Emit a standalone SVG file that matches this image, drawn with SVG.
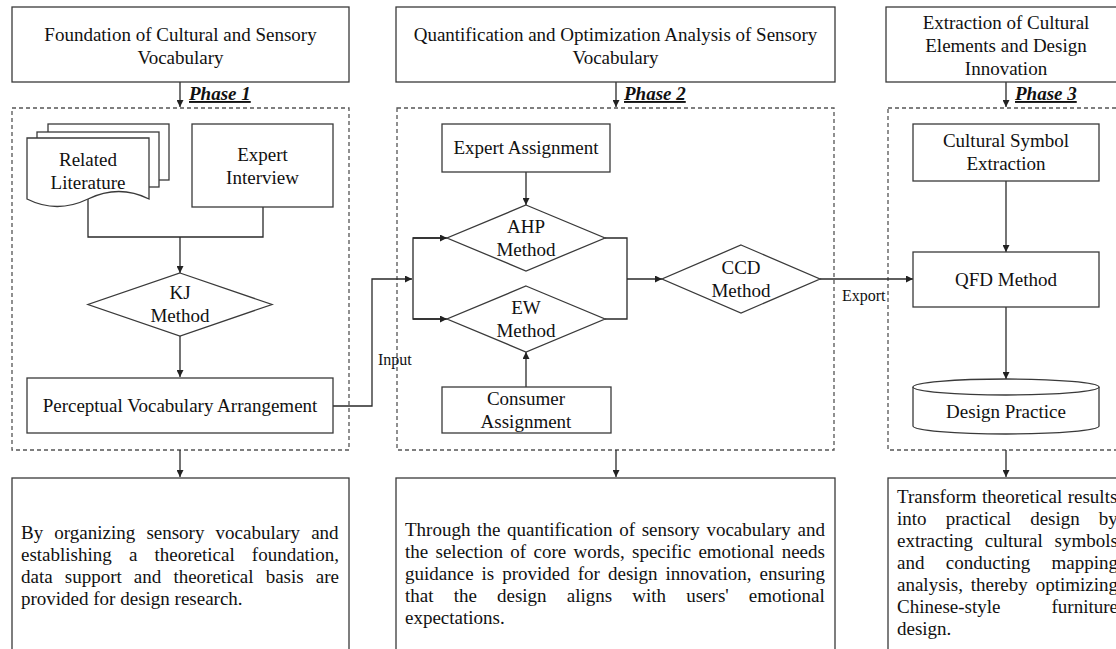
<svg xmlns="http://www.w3.org/2000/svg" width="1116" height="649" viewBox="0 0 1116 649">
  <defs>
    <marker id="arrow" markerUnits="userSpaceOnUse" markerWidth="8" markerHeight="7" refX="7" refY="3.5" orient="auto">
      <path d="M0,0 L7,3.5 L0,7 Z" fill="#222"/>
    </marker>
    <style>
      .box { fill: #fff; stroke: #3a3a3a; stroke-width: 1.3; }
      .dash { fill: none; stroke: #555; stroke-width: 1.3; stroke-dasharray: 4 3; }
      .line { fill: none; stroke: #2a2a2a; stroke-width: 1.3; }
      .arr { marker-end: url(#arrow); }
      text { font-family: "Liberation Serif", "Times New Roman", serif; font-size: 19px; fill: #111; }
      .c { text-anchor: middle; }
      .e { text-anchor: end; }
      .small { font-size: 16px; }
      .phase { font-weight: bold; font-style: italic; text-decoration: underline; }
    </style>
  </defs>

  <rect width="1116" height="649" fill="#fff"/>

  <!-- Phase containers -->
  <g id="phase1-frame"><rect class="dash" x="12" y="108" width="337" height="342"/></g>
  <g id="phase2-frame"><rect class="dash" x="397" y="108" width="437" height="342"/></g>
  <g id="phase3-frame"><rect class="dash" x="888" y="108" width="238" height="342"/></g>

  <!-- Connectors -->
  <g id="connectors">
    <!-- phase headers to frames -->
    <line class="line arr" x1="180" y1="82" x2="180" y2="107"/>
    <line class="line arr" x1="616" y1="82" x2="616" y2="107"/>
    <line class="line arr" x1="1006" y1="82" x2="1006" y2="107"/>
    <!-- frames to summaries -->
    <line class="line arr" x1="180" y1="450" x2="180" y2="477"/>
    <line class="line arr" x1="616" y1="450" x2="616" y2="477"/>
    <line class="line arr" x1="1006" y1="450" x2="1006" y2="477"/>
    <!-- phase 1 -->
    <polyline class="line" points="88,199 88,237 263,237 263,207"/>
    <line class="line arr" x1="180" y1="237" x2="180" y2="273"/>
    <line class="line arr" x1="180" y1="336" x2="180" y2="377"/>
    <!-- input -->
    <polyline class="line arr" points="333,406 372,406 372,279 412,279"/>
    <polyline class="line" points="446,238 413,238 413,319 446,319"/>
    <line class="line arr" x1="413" y1="238" x2="447" y2="238"/>
    <line class="line arr" x1="413" y1="319" x2="447" y2="319"/>
    <!-- phase 2 -->
    <line class="line arr" x1="526" y1="172" x2="526" y2="205"/>
    <line class="line arr" x1="526" y1="387" x2="526" y2="352"/>
    <polyline class="line" points="605,238 627,238 627,319 605,319"/>
    <line class="line arr" x1="627" y1="279" x2="662" y2="279"/>
    <!-- export -->
    <line class="line arr" x1="820" y1="279" x2="913" y2="279"/>
    <!-- phase 3 -->
    <line class="line arr" x1="1006" y1="181" x2="1006" y2="252"/>
    <line class="line arr" x1="1006" y1="307" x2="1006" y2="379"/>
    <text class="small" x="378" y="365">Input</text>
    <text class="small" x="842" y="301">Export</text>
  </g>

  <!-- Phase headers -->
  <g id="header1">
    <rect class="box" x="12" y="7" width="337" height="75"/>
    <text class="c" x="180.5" y="41">Foundation of Cultural and Sensory</text>
    <text class="c" x="180.5" y="64">Vocabulary</text>
    <text class="phase" x="189" y="100">Phase 1</text>
  </g>
  <g id="header2">
    <rect class="box" x="396" y="7" width="439" height="75"/>
    <text class="c" x="615.5" y="41">Quantification and Optimization Analysis of Sensory</text>
    <text class="c" x="615.5" y="64">Vocabulary</text>
    <text class="phase" x="624" y="100">Phase 2</text>
  </g>
  <g id="header3">
    <rect class="box" x="886" y="7" width="240" height="75"/>
    <text class="c" x="1006" y="29">Extraction of Cultural</text>
    <text class="c" x="1006" y="52">Elements and Design</text>
    <text class="c" x="1006" y="75">Innovation</text>
    <text class="phase" x="1015" y="100">Phase 3</text>
  </g>

  <!-- Phase 1 nodes -->
  <g id="related-literature">
    <rect class="box" x="48" y="124" width="121" height="56"/>
    <rect class="box" x="37" y="132" width="122" height="55"/>
    <path class="box" d="M27,138 H149 V199 Q119,184 88,199 Q57,214 27,199 Z"/>
    <text class="c" x="88" y="166">Related</text>
    <text class="c" x="88" y="189">Literature</text>
  </g>
  <g id="expert-interview">
    <rect class="box" x="192" y="124" width="141" height="83"/>
    <text class="c" x="262.5" y="161">Expert</text>
    <text class="c" x="262.5" y="184">Interview</text>
  </g>
  <g id="kj-method">
    <polygon class="box" points="180,273 272,304.5 180,336 88,304.5"/>
    <text class="c" x="180" y="299">KJ</text>
    <text class="c" x="180" y="322">Method</text>
  </g>
  <g id="perceptual-vocabulary">
    <rect class="box" x="27" y="378" width="306" height="55"/>
    <text class="c" x="180" y="412">Perceptual Vocabulary Arrangement</text>
  </g>

  <!-- Phase 2 nodes -->
  <g id="expert-assignment">
    <rect class="box" x="442" y="124" width="168" height="48"/>
    <text class="c" x="526" y="154">Expert Assignment</text>
  </g>
  <g id="ahp-method">
    <polygon class="box" points="526,205 605,238 526,271 447,238"/>
    <text class="c" x="526" y="233">AHP</text>
    <text class="c" x="526" y="256">Method</text>
  </g>
  <g id="ew-method">
    <polygon class="box" points="526,286 605,319 526,352 447,319"/>
    <text class="c" x="526" y="314">EW</text>
    <text class="c" x="526" y="337">Method</text>
  </g>
  <g id="consumer-assignment">
    <rect class="box" x="442" y="387" width="169" height="46"/>
    <text class="c" x="526" y="405">Consumer</text>
    <text class="c" x="526" y="428">Assignment</text>
  </g>
  <g id="ccd-method">
    <polygon class="box" points="741,245 820,279 741,313 662,279"/>
    <text class="c" x="741" y="274">CCD</text>
    <text class="c" x="741" y="297">Method</text>
  </g>

  <!-- Phase 3 nodes -->
  <g id="cultural-symbol">
    <rect class="box" x="913" y="124" width="186" height="57"/>
    <text class="c" x="1006" y="147">Cultural Symbol</text>
    <text class="c" x="1006" y="170">Extraction</text>
  </g>
  <g id="qfd-method">
    <rect class="box" x="913" y="252" width="186" height="55"/>
    <text class="c" x="1006" y="286">QFD Method</text>
  </g>
  <g id="design-practice">
    <path class="box" d="M913,387 V426 A93,8 0 0 0 1099,426 V387"/>
    <ellipse class="box" cx="1006" cy="387" rx="93" ry="8"/>
    <text class="c" x="1006" y="418">Design Practice</text>
  </g>

  <!-- Summaries -->
  <g id="summary1">
    <rect class="box" x="12" y="478" width="337" height="190"/>
    <text x="21" y="539" word-spacing="6.4">By organizing sensory vocabulary and</text>
    <text x="21" y="561" word-spacing="12.4">establishing a theoretical foundation,</text>
    <text x="21" y="583" word-spacing="7.35">data support and theoretical basis are</text>
    <text x="21" y="605">provided for design research.</text>
  </g>
  <g id="summary2">
    <rect class="box" x="396" y="478" width="439" height="190"/>
    <text x="405" y="536" word-spacing="1.93">Through the quantification of sensory vocabulary and</text>
    <text x="405" y="558" word-spacing="2.56">the selection of core words, specific emotional needs</text>
    <text x="405" y="580" word-spacing="3.25">guidance is provided for design innovation, ensuring</text>
    <text x="405" y="602" word-spacing="15.4">that the design aligns with users' emotional</text>
    <text x="405" y="624">expectations.</text>
  </g>
  <g id="summary3">
    <rect class="box" x="888" y="478" width="238" height="190"/>
    <text x="897" y="503" word-spacing="0.75">Transform theoretical results</text>
    <text x="897" y="525" word-spacing="14.35">into practical design by</text>
    <text x="897" y="547" word-spacing="7.05">extracting cultural symbols</text>
    <text x="897" y="569" word-spacing="16.55">and conducting mapping</text>
    <text x="897" y="591" word-spacing="3.1">analysis, thereby optimizing</text>
    <text x="897" y="613" word-spacing="46.35">Chinese-style furniture</text>
    <text x="897" y="635">design.</text>
  </g>
</svg>
